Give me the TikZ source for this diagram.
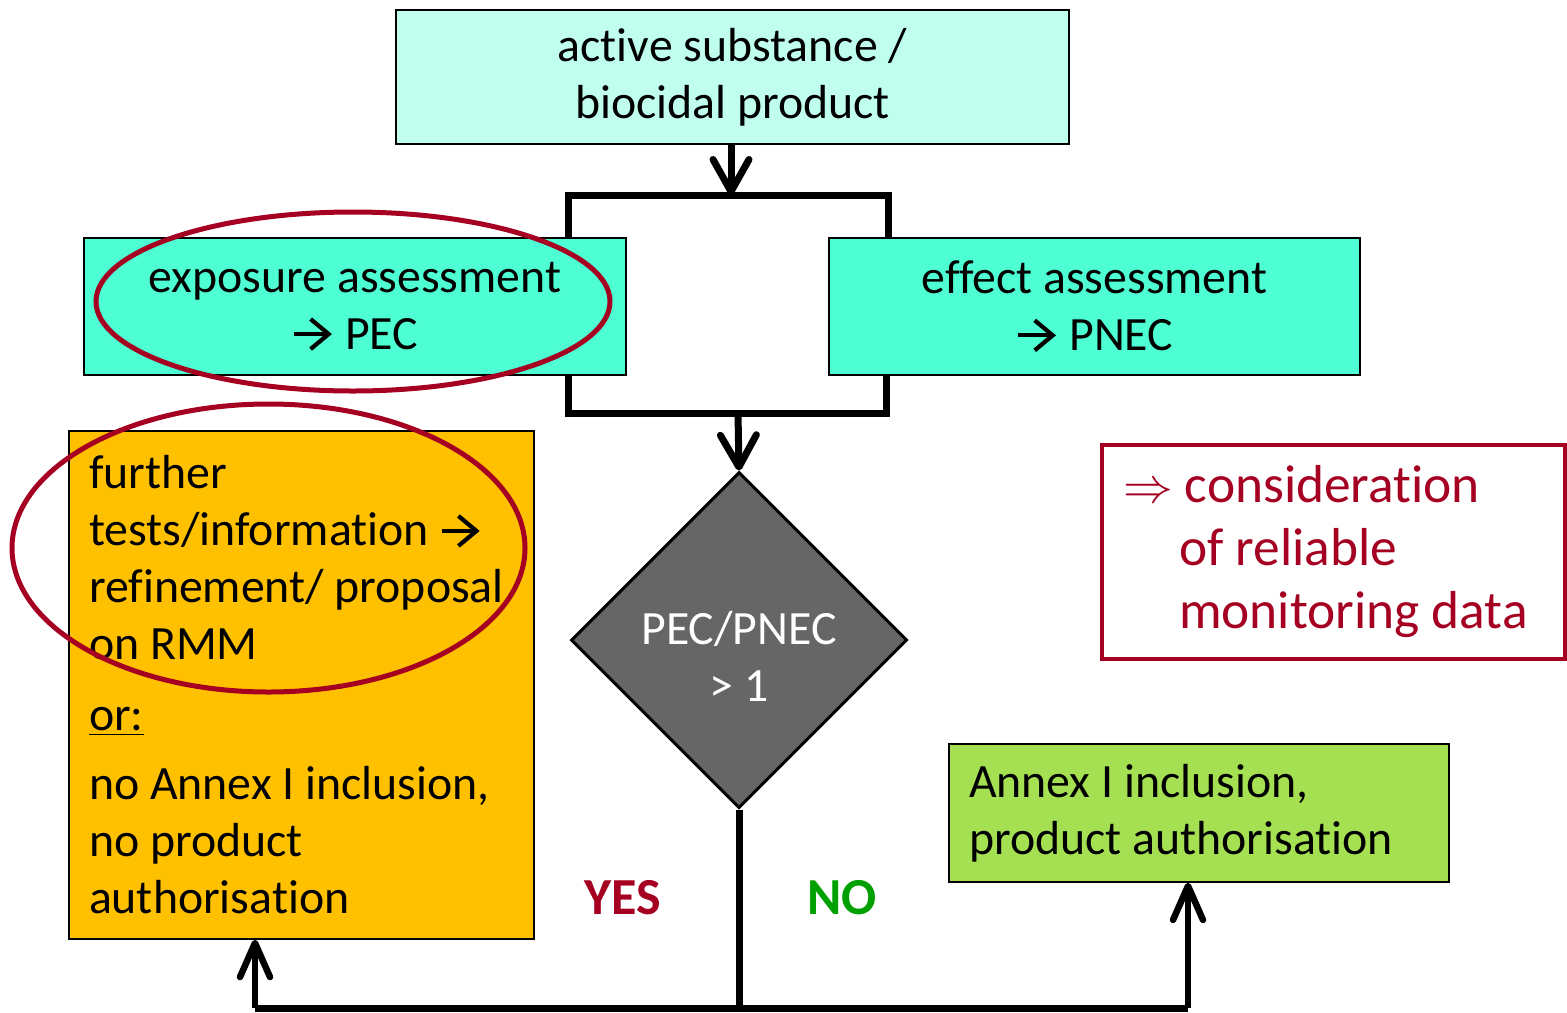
\documentclass[tikz,border=0pt]{standalone}
\usepackage{fontspec}
\setmainfont{Carlito}[Ligatures={NoCommon,NoContextual},Contextuals=NoAlternate]
\usetikzlibrary{shapes.geometric,arrows.meta}
\definecolor{topfill}{RGB}{192,255,238}
\definecolor{teal}{RGB}{77,255,210}
\definecolor{orangefill}{RGB}{255,192,0}
\definecolor{greenfill}{RGB}{164,224,82}
\definecolor{darkred}{RGB}{165,0,33}
\definecolor{nogreen}{RGB}{0,160,0}
\definecolor{diagray}{RGB}{102,102,102}
\newcommand\rarr{\tikz[baseline=0pt]\draw[line width=2.1pt, -{Straight Barb[length=9pt,width=15pt]}] (0pt,7.5pt) -- (19pt,7.5pt);}
\begin{document}
\begin{tikzpicture}[x=0.5pt,y=-0.5pt,
  box/.style={draw=black, line width=0.75pt, inner sep=0pt, align=center,
    font=\fontsize{23.9}{28.5}\selectfont},
  leftbox/.style={draw=black, line width=0.75pt, inner sep=10pt, align=flush left,
    font=\fontsize{23.9}{28.5}\selectfont},
  flow/.style={line width=3.5pt, line join=miter},
  arr/.style={flow, -{Straight Barb[length=16pt,width=18pt,round]}},
  uparr/.style={line width=3.25pt, -{Straight Barb[length=17pt,width=15pt,round]}},
  ring/.style={draw=darkred, line width=2.5pt},
  lbl/.style={font=\fontsize{26}{30}\selectfont\bfseries}
]
\useasboundingbox (0,0) rectangle (1567,1012);

% boxes
\node[box, fill=topfill, minimum width=336.5pt, minimum height=67pt] (top) at (732.5,77)
  {active substance /\\biocidal product};
\node[box, fill=teal, minimum width=271pt, minimum height=68.5pt] (expo) at (355,306.5)
  {exposure assessment\\\rarr\ PEC};
\node[box, fill=teal, minimum width=265.5pt, minimum height=68.5pt] (effect) at (1094.5,306.5)
  {effect assessment\\\rarr\ PNEC};
\node[leftbox, fill=orangefill, text width=212.5pt, minimum height=254pt] (orange) at (301.5,685)
  {further\\tests/information \rarr\\refinement/ proposal\\on RMM\\[7pt]\underline{or:}\\[6pt]no Annex I inclusion,\\no product\\authorisation};
\node[leftbox, fill=greenfill, text width=230pt, minimum height=68pt] (green) at (1199,813)
  {Annex I inclusion,\\product authorisation};
\node[draw=darkred, line width=2pt, inner sep=10.5pt, text width=210.5pt, minimum height=107pt,
  align=flush left, text=darkred, font=\fontsize{26.7}{31.5}\selectfont] (mon) at (1333.5,552)
  {$\Rightarrow$ consideration\\\hspace*{28pt}of reliable\\\hspace*{28pt}monitoring data};

% diamond
\node[diamond, draw=black, line width=1.5pt, fill=diagray, aspect=1, inner sep=0pt,
  minimum width=168pt, minimum height=168pt] (dia) at (739,640) {};
\node[text=white, align=center, font=\fontsize{23.9}{28.5}\selectfont] (diatxt) at (739,656)
  {PEC/PNEC\\> 1};

% labels
\node[lbl, text=darkred] (yes) at (623,898) {YES};
\node[lbl, text=nogreen] (no) at (842,898) {NO};

% coordinates
\coordinate (b1l) at (568,238);
\coordinate (b1m) at (731,195);
\coordinate (b1r) at (888,238);
\coordinate (b2l) at (568,375);
\coordinate (b2m) at (738,413);
\coordinate (b2r) at (886,375);
\coordinate (botm) at (739,1008);
\coordinate (botl) at (255,1008);
\coordinate (botr) at (1188,1008);

% connectors
\draw[arr] (top.south -| b1m) -- (b1m);
\draw[flow] (b1l) |- (b1m) -| (b1r);
\draw[flow] (b2l) |- (b2m) -| (b2r);
\draw[arr] (b2m) -- (dia.north);
\draw[flow] (dia.south) -- (botm);
\draw[flow] (botl) -- (botr);
\draw[uparr] (botl) -- (orange.south -| botl);
\draw[uparr] (botr) -- (green.south -| botr);

% ellipses
\draw[ring] (353,301.5) ellipse [x radius=128.5pt, y radius=44.75pt];
\draw[ring] (268.5,548) ellipse [x radius=128.25pt, y radius=72pt];
\end{tikzpicture}
\end{document}
